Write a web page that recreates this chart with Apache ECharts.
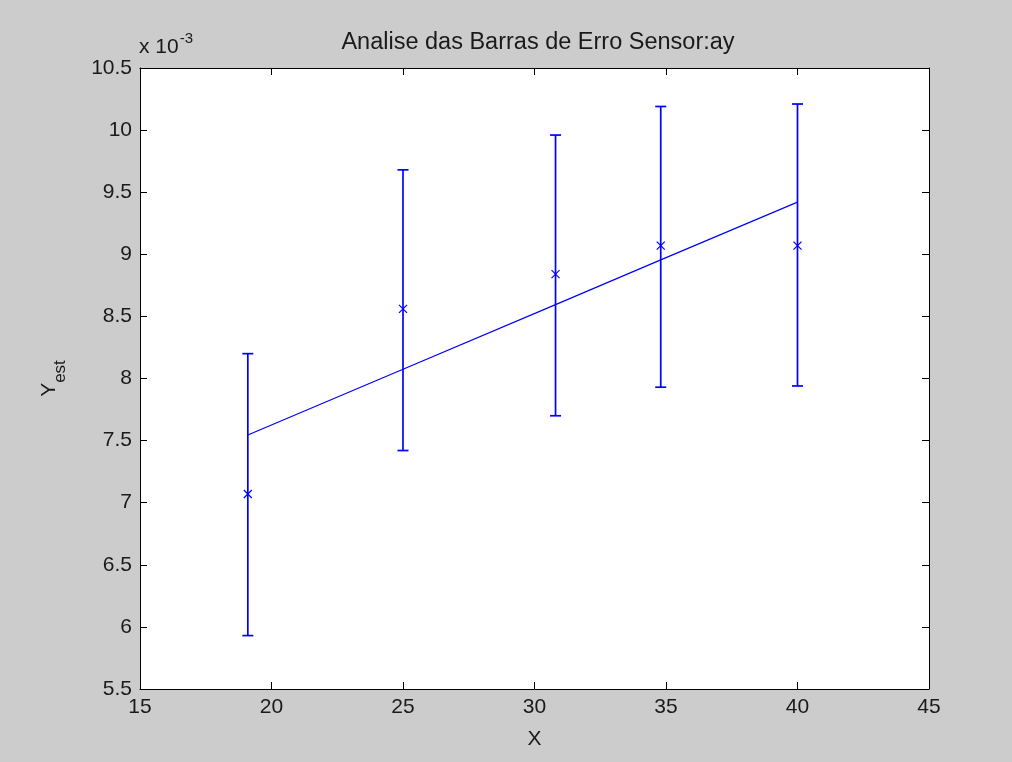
<!DOCTYPE html>
<html>
<head>
<meta charset="utf-8">
<script src="https://cdn.jsdelivr.net/npm/echarts@6/dist/echarts.min.js"></script>
<style>html,body{margin:0;padding:0;background:#cccccc;}#c{width:1012px;height:762px;}</style>
</head>
<body>
<div id="c"></div>
<script>
// values in units of 1e-3
var xs = [19.1, 25, 30.8, 34.8, 40];
var means = [7.07, 8.56, 8.84, 9.07, 9.07];
var lows = [5.93, 7.42, 7.70, 7.93, 7.94];
var highs = [8.20, 9.68, 9.96, 10.19, 10.21];
var fitVals = [7.545, 8.075, 8.595, 8.955, 9.42];
var yTicks = [5.5, 6, 6.5, 7, 7.5, 8, 8.5, 9, 9.5, 10, 10.5];

var blue = '#0000ff';
var font = 'Liberation Sans, Arial, sans-serif';
var txt = '#1a1a1a';
var fs = 21;

var errData = xs.map(function (x, i) { return [x, means[i], lows[i], highs[i]]; });
var fitData = xs.map(function (x, i) { return [x, fitVals[i]]; });

var chart = echarts.init(document.getElementById('c'));
var axisCommon = {
  axisLine: { show: true, onZero: false, lineStyle: { color: '#000', width: 1 } },
  axisTick: { show: true, inside: true, length: 7, lineStyle: { color: '#000' } },
  splitLine: { show: false }
};
chart.setOption({
  backgroundColor: '#cccccc',
  animation: false,
  title: {
    text: 'Analise das Barras de Erro Sensor:ay',
    left: 533, top: 26, textAlign: 'center',
    textStyle: { fontFamily: font, fontSize: 23.5, fontWeight: 'normal', color: txt }
  },
  grid: { left: 140, right: 83, top: 68, bottom: 73, backgroundColor: '#fff', show: true, borderWidth: 0 },
  xAxis: [
    Object.assign({
      type: 'value', min: 15, max: 45, interval: 5, position: 'bottom',
      name: 'X', nameLocation: 'middle', nameGap: 40,
      nameTextStyle: { fontFamily: font, fontSize: fs, color: txt },
      axisLabel: { fontFamily: font, fontSize: fs, color: txt, margin: 8 }
    }, axisCommon),
    Object.assign({
      type: 'value', min: 15, max: 45, interval: 5, position: 'top',
      axisLabel: { show: false }
    }, axisCommon)
  ],
  yAxis: [
    Object.assign({
      type: 'value', min: 5.5, max: 10.5, interval: 0.5, position: 'left',
      name: '{a|Y}{b|est}', nameLocation: 'middle', nameGap: 71, nameRotate: 90,
      nameTextStyle: {
        fontFamily: font, color: txt,
        rich: {
          a: { fontFamily: font, fontSize: fs, color: txt, verticalAlign: 'top' },
          b: { fontFamily: font, fontSize: 17, color: txt, padding: [13, 0, 0, 0], verticalAlign: 'top' }
        }
      },
      axisLabel: { fontFamily: font, fontSize: fs, color: txt, margin: 8,
        formatter: function (v) { return String(+v.toFixed(1)); } }
    }, axisCommon),
    Object.assign({
      type: 'value', min: 5.5, max: 10.5, interval: 0.5, position: 'right',
      axisLabel: { show: false }
    }, axisCommon)
  ],
  graphic: [{
    type: 'text', left: 139, top: 31,
    style: {
      text: '{a|x 10}{b|-3}',
      rich: {
        a: { fontFamily: font, fontSize: fs, fill: txt, verticalAlign: 'bottom' },
        b: { fontFamily: font, fontSize: 15, fill: txt, padding: [0, 0, 12, 1], verticalAlign: 'bottom' }
      }
    }
  }],
  series: [
    {
      type: 'line', data: fitData, xAxisIndex: 0, yAxisIndex: 0,
      symbol: 'none', lineStyle: { color: blue, width: 1.2 }, z: 2
    },
    {
      type: 'custom', data: errData, xAxisIndex: 0, yAxisIndex: 0, z: 3,
      renderItem: function (params, api) {
        var x = api.value(0);
        var m = api.coord([x, api.value(1)]);
        var lo = api.coord([x, api.value(2)]);
        var hi = api.coord([x, api.value(3)]);
        var cw = 5.5, mk = 4;
        var st = { stroke: blue, lineWidth: 1.7 };
        return {
          type: 'group',
          children: [
            { type: 'line', shape: { x1: lo[0], y1: lo[1], x2: hi[0], y2: hi[1] }, style: st },
            { type: 'line', shape: { x1: lo[0] - cw, y1: lo[1], x2: lo[0] + cw, y2: lo[1] }, style: st },
            { type: 'line', shape: { x1: hi[0] - cw, y1: hi[1], x2: hi[0] + cw, y2: hi[1] }, style: st },
            { type: 'line', shape: { x1: m[0] - mk, y1: m[1] - mk, x2: m[0] + mk, y2: m[1] + mk }, style: { stroke: blue, lineWidth: 1.2 } },
            { type: 'line', shape: { x1: m[0] - mk, y1: m[1] + mk, x2: m[0] + mk, y2: m[1] - mk }, style: { stroke: blue, lineWidth: 1.2 } }
          ]
        };
      }
    }
  ]
});
</script>
</body>
</html>
